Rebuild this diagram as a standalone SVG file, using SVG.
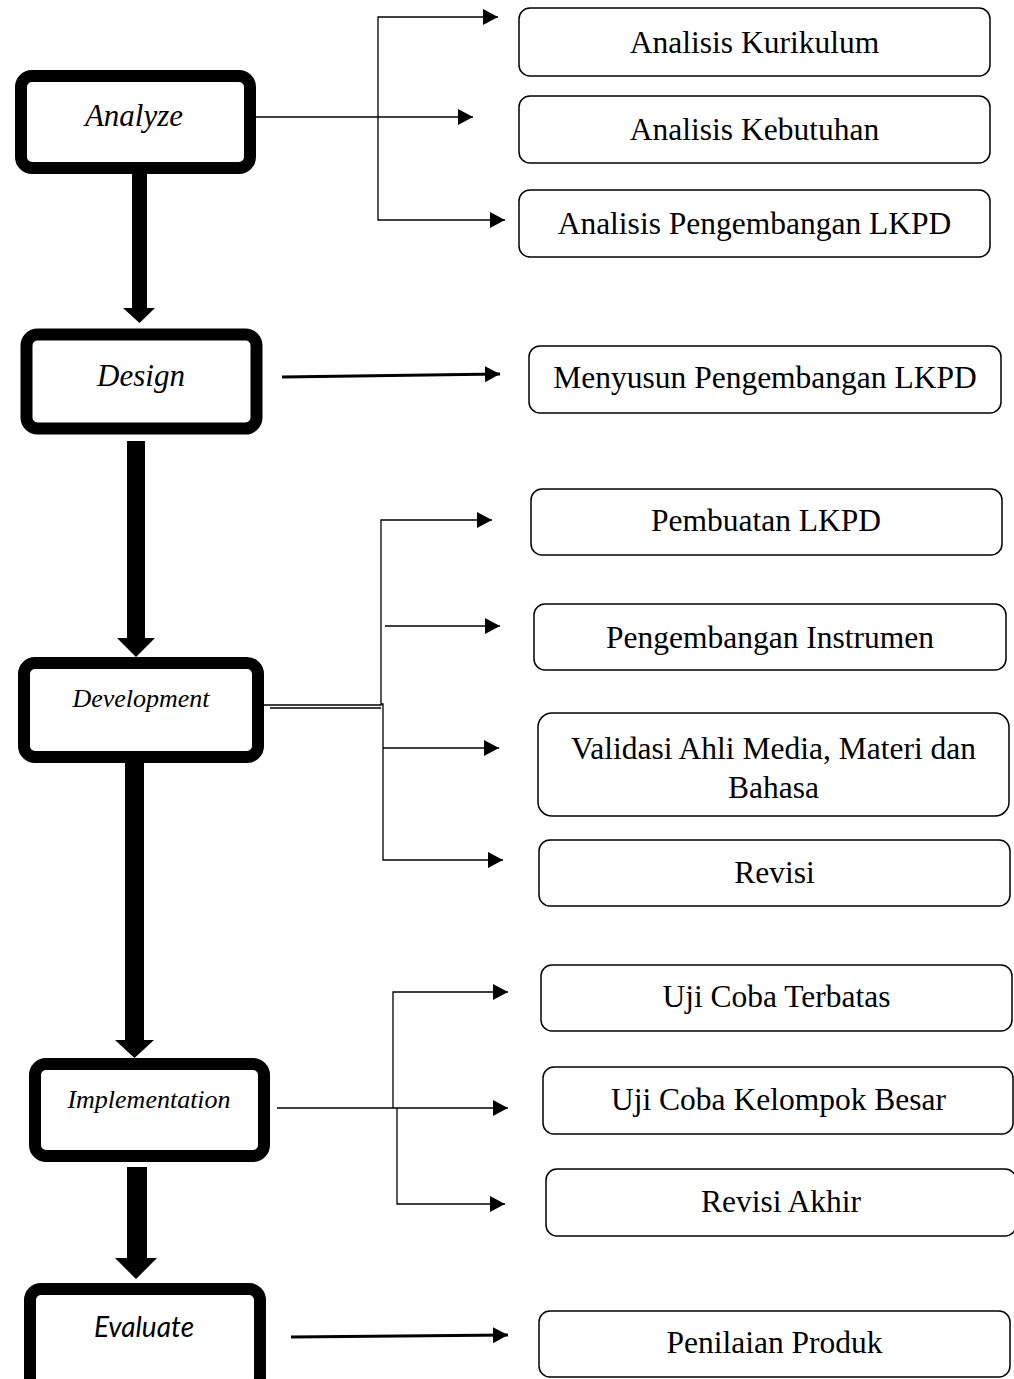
<svg xmlns="http://www.w3.org/2000/svg" width="1014" height="1379" viewBox="0 0 1014 1379">
<style>
.stage{fill:#fff;stroke:#000;stroke-width:12}
.item{fill:#fff;stroke:#000;stroke-width:1.5}
.st{font-family:"Liberation Serif","Times New Roman",serif;font-style:italic;fill:#000;text-anchor:middle}
.it{font-family:"Liberation Serif","Times New Roman",serif;font-size:31.5px;fill:#000;text-anchor:middle}
.thin{fill:none;stroke:#000;stroke-width:1.3}
.thick{fill:none;stroke:#000;stroke-width:3.2}
.big{fill:#000}
</style>
<defs>
<marker id="ah" markerUnits="userSpaceOnUse" markerWidth="16" markerHeight="17" refX="15" refY="8" orient="auto">
<path d="M0,0 L15,8 L0,16 z" fill="#000"/>
</marker>
</defs>
<rect width="1014" height="1379" fill="#fff"/>
<g id="connectors">
<polygon class="big" points="132,174 147,174 147,308 155,308 139.5,323 123,308 132,308"/>
<polygon class="big" points="127,441 145,441 145,638 155,638 136,657 117,638 127,638"/>
<polygon class="big" points="125,763 144,763 144,1040 154,1040 134.5,1058 115,1040 125,1040"/>
<polygon class="big" points="127,1167 147,1167 147,1258 157,1258 136,1279 115,1258 127,1258"/>
<path class="thin" d="M256,117 H473" marker-end="url(#ah)"/>
<path class="thin" d="M378,117 V17 H498" marker-end="url(#ah)"/>
<path class="thin" d="M378,117 V220 H505" marker-end="url(#ah)"/>
<path class="thick" d="M282,377 L500,374" marker-end="url(#ah)"/>
<path class="thin" d="M263,705 H381 V520 H492" marker-end="url(#ah)"/>
<path class="thin" d="M270,708 H381"/>
<path class="thin" d="M381,704 H383 V860 H503" marker-end="url(#ah)"/>
<path class="thin" d="M385,626 H500" marker-end="url(#ah)"/>
<path class="thin" d="M383,748 H499" marker-end="url(#ah)"/>
<path class="thin" d="M277,1108 H508" marker-end="url(#ah)"/>
<path class="thin" d="M393,1108 V992 H508" marker-end="url(#ah)"/>
<path class="thin" d="M397,1108 V1204 H505" marker-end="url(#ah)"/>
<path class="thick" d="M291,1337 L508,1335" marker-end="url(#ah)"/>
</g>
<g id="analyze"><rect class="stage" x="21" y="76" width="229" height="92" rx="11"/><text class="st" x="134" y="126" font-size="31">Analyze</text></g>
<g id="design"><rect class="stage" x="26.5" y="334.5" width="230" height="94" rx="11"/><text class="st" x="141" y="386" font-size="31">Design</text></g>
<g id="development"><rect class="stage" x="24" y="663" width="234" height="94" rx="11"/><text class="st" x="141" y="707" font-size="26">Development</text></g>
<g id="implementation"><rect class="stage" x="35" y="1064" width="229" height="92" rx="11"/><text class="st" x="149" y="1108" font-size="26">Implementation</text></g>
<g id="evaluate"><rect class="stage" x="30" y="1289" width="230" height="100" rx="11"/><text x="144" y="1337" font-family="Lato,'Liberation Sans',sans-serif" font-style="italic" font-size="28" text-anchor="middle" fill="#000">Evaluate</text></g>
<g id="analisis-kurikulum"><rect class="item" x="519" y="8" width="471" height="68" rx="11"/><text class="it" x="754.5" y="53">Analisis Kurikulum</text></g>
<g id="analisis-kebutuhan"><rect class="item" x="519" y="96" width="471" height="67" rx="11"/><text class="it" x="754.5" y="140">Analisis Kebutuhan</text></g>
<g id="analisis-pengembangan"><rect class="item" x="519" y="190" width="471" height="67" rx="11"/><text class="it" x="754.5" y="234">Analisis Pengembangan LKPD</text></g>
<g id="menyusun"><rect class="item" x="529" y="346" width="472" height="67" rx="11"/><text class="it" x="765" y="388" font-size="29">Menyusun Pengembangan LKPD</text></g>
<g id="pembuatan"><rect class="item" x="531" y="489" width="471" height="66" rx="11"/><text class="it" x="766" y="531">Pembuatan LKPD</text></g>
<g id="instrumen"><rect class="item" x="534" y="604" width="472" height="66" rx="11"/><text class="it" x="770" y="648">Pengembangan Instrumen</text></g>
<g id="validasi"><rect class="item" x="538" y="713" width="471" height="103" rx="14"/><text class="it" x="773.5" y="759">Validasi Ahli Media, Materi dan</text><text class="it" x="773.5" y="798">Bahasa</text></g>
<g id="revisi"><rect class="item" x="539" y="840" width="471" height="66" rx="11"/><text class="it" x="774.5" y="883">Revisi</text></g>
<g id="uji-terbatas"><rect class="item" x="541" y="965" width="471" height="66" rx="11"/><text class="it" x="776.5" y="1007">Uji Coba Terbatas</text></g>
<g id="uji-besar"><rect class="item" x="543" y="1067" width="470" height="67" rx="11"/><text class="it" x="778.5" y="1110">Uji Coba Kelompok Besar</text></g>
<g id="revisi-akhir"><rect class="item" x="546" y="1169" width="470" height="67" rx="11"/><text class="it" x="781" y="1212">Revisi Akhir</text></g>
<g id="penilaian"><rect class="item" x="539" y="1311" width="471" height="66" rx="11"/><text class="it" x="774.5" y="1353">Penilaian Produk</text></g>
</svg>
